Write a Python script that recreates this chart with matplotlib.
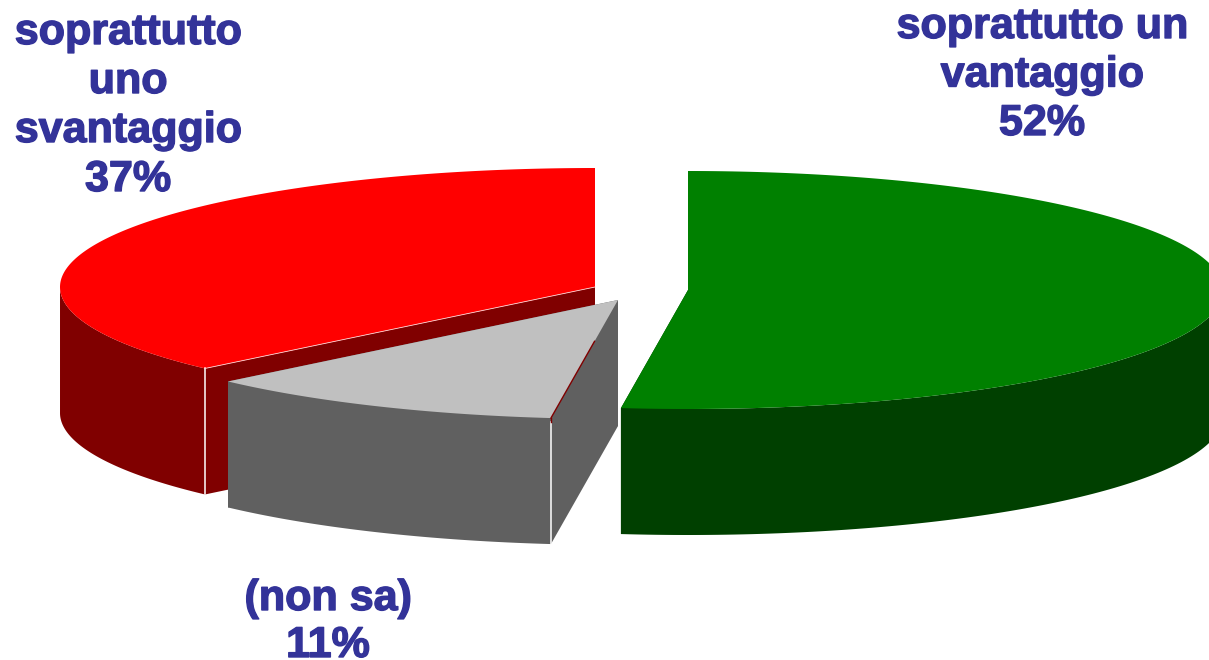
import matplotlib
matplotlib.use("Agg")
import matplotlib.pyplot as plt
import matplotlib.patheffects as pe
import numpy as np

# valori, a partire da ore 12 in senso orario
shares = [52, 11, 37]
top_colors = ["#008000", "#c0c0c0", "#ff0000"]
side_colors = ["#004000", "#606060", "#800000"]

labels = [["soprattutto un", "vantaggio", "52%"],
          ["(non sa)", "11%"],
          ["soprattutto", "uno", "svantaggio", "37%"]]
label_x = [1042, 328, 128]
label_y = [38, 610, 44]
line_step = [48.5, 47, 49]

# geometria: centro di ogni fetta esplosa, semiassi e spessore in pixel
centers = [(688, 290), (618, 300), (595, 287)]
rx, ry = 535, 119
depth = 126

fig = plt.figure(figsize=(12.09, 6.6), dpi=100)
ax = fig.add_axes([0, 0, 1, 1])
ax.set_xlim(0, 1209)
ax.set_ylim(660, 0)
ax.axis("off")


def draw_slice(i, a0, a1, z):
    cx, cy = centers[i]
    deg = np.linspace(a0, a1, 200)
    t = np.radians(deg)
    x, y = cx + rx * np.sin(t), cy - ry * np.cos(t)

    # parete esterna: solo la parte rivolta verso chi guarda
    mask = (deg >= 90) & (deg <= 270)
    if mask.any():
        xs, ys = x[mask], y[mask]
        ax.fill(np.r_[xs, xs[::-1]], np.r_[ys, ys[::-1] + depth],
                color=side_colors[i], lw=0, zorder=z)

    # pareti di taglio
    for px, py in [(x[0], y[0]), (x[-1], y[-1])]:
        ax.fill([cx, px, px, cx], [cy, py, py + depth, cy + depth],
                color=side_colors[i], lw=0, zorder=z)

    ax.fill(np.r_[cx, x], np.r_[cy, y], color=top_colors[i], lw=0, zorder=z + 1)
    return x, y


# prima il rosso, poi verde e grigio che gli stanno davanti
angles = np.cumsum([0] + shares) * 3.6
for i, z in [(2, 10), (0, 20), (1, 30)]:
    x, y = draw_slice(i, angles[i], angles[i + 1], z)

    if i == 2:
        # filetto bianco sullo spigolo rosso
        ax.plot([x[0], x[0]], [y[0], y[0] + depth], color="white", lw=1.1, zorder=z + 2)
        ax.plot([x[0], centers[i][0]], [y[0], centers[i][1]], color="#ffd0d0", lw=0.6, zorder=z + 2)
    if i == 1:
        cx, cy = centers[i]
        ax.plot([x[0], x[0]], [y[0] + 4, y[0] + depth], color="white", lw=1.1, zorder=z + 2)
        # sottile riga scura lungo il bordo del grigio
        ax.plot([x[0], x[0] + 0.65 * (cx - x[0])], [y[0], y[0] + 0.65 * (cy - y[0])],
                color="#800000", lw=1.0, zorder=z + 2)
        ax.plot([x[0], x[0]], [y[0], y[0] + 4], color="#800000", lw=1.0, zorder=z + 2)

for lines, lx, ly, step in zip(labels, label_x, label_y, line_step):
    for k, line in enumerate(lines):
        ax.text(lx, ly + k * step, line, ha="center", va="baseline", color="#333399",
                fontsize=31, fontweight="bold", family="Liberation Sans", zorder=50,
                path_effects=[pe.withStroke(linewidth=1.0, foreground="#333399")])

fig.savefig("out.png", dpi=100, facecolor="white")
